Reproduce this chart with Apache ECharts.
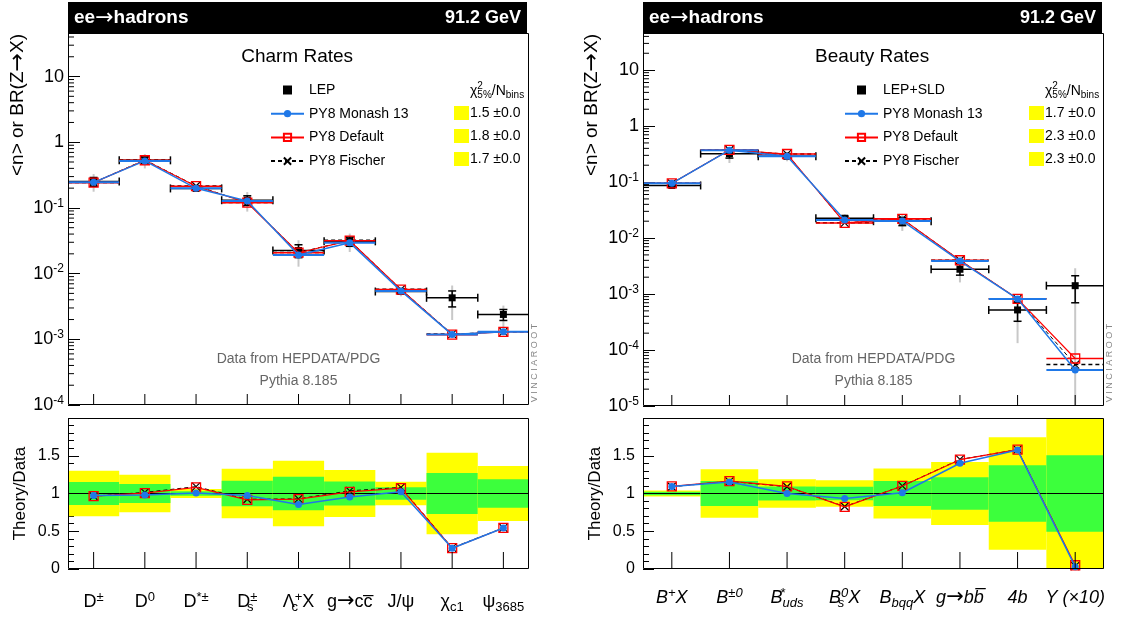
<!DOCTYPE html>
<html><head><meta charset="utf-8">
<script src="https://cdn.jsdelivr.net/npm/echarts@6/dist/echarts.min.js"></script>
<style>html,body{margin:0;padding:0;background:#fff}#c{width:1142px;height:617px}</style>
</head><body><div id="c"></div>
<script>
// ---------------- Charm panel ----------------
const charmCats = ['D+-', 'D0', 'D*+-', 'Ds+-', 'LambdaC', 'g->ccbar', 'J/psi', 'chi_c1', 'psi3685'];
const charmLabels = ['D{sup|±}', 'D{sup|0}', 'D{sup|*±}', 'D{subz|s}{sup|±}', 'Λ{subz|c}{sup|+}X', 'g{arr|→}cc\u0305', 'J/ψ', 'χ{sub|c1}', 'ψ{sub|3685}'];
const charmData    = [0.252, 0.53, 0.198, 0.131, 0.0225, 0.031, 0.00534, 0.00428, 0.00239];
const charmErr1    = [0.153, 0.127, 0.03, 0.168, 0.222, 0.16, 0.082, 0.273, 0.19];   // green band (1 sigma, rel.)
const charmErr2    = [0.30, 0.247, 0.058, 0.329, 0.433, 0.312, 0.156, 0.54, 0.364]; // yellow band (rel.)
const charmMonash  = [0.245, 0.520, 0.199, 0.1275, 0.0192, 0.0296, 0.00546, 0.00118, 0.0013];
const charmDefault = [0.243, 0.532, 0.214, 0.120, 0.0208, 0.0317, 0.00572, 0.00118, 0.0013];
const charmFischer = [0.243, 0.538, 0.216, 0.121, 0.0209, 0.0321, 0.00577, 0.0012, 0.0013];
const charmChi2    = ['1.5 ±0.0', '1.8 ±0.0', '1.7 ±0.0'];

// ---------------- Beauty panel ----------------
const beautyCats = ['B+X', 'B+-0', 'B*uds', 'Bs0X', 'BbqqX', 'g->bbbar', '4b', 'Upsilon'];
const beautyLabels = ['B{sup|+}X', 'B{sup|±0}', 'B{supz|*}{sub|uds}', 'B{subz|s}{sup|0}X', 'B{sub|bqq}X', 'g{arr|→}bb\u0305', '4b', 'Υ (×10)'];
const beautyData    = [0.087, 0.322, 0.29, 0.0226, 0.02, 0.00277, 0.00052, 0.00141];
const beautyErr1    = [0.022, 0.167, 0.093, 0.09, 0.167, 0.215, 0.373, 0.505];
const beautyErr2    = [0.04, 0.32, 0.188, 0.175, 0.33, 0.418, 0.745, 1.05];
const beautyMonash  = [0.0951, 0.371, 0.290, 0.0211, 0.0202, 0.00388, 0.000819, 0.000044];
const beautyDefault = [0.0951, 0.375, 0.317, 0.0186, 0.0220, 0.00401, 0.000822, 0.0000705];
const beautyFischer = [0.0948, 0.374, 0.316, 0.0187, 0.0220, 0.00402, 0.000822, 0.000055];
const beautyChi2    = ['1.7 ±0.0', '2.3 ±0.0', '2.3 ±0.0'];

// ---------------- Axis ticks ----------------
const logTickExps   = [-5, -4, -3, -2, -1, 0, 1];
const logTickLabels = ['10{sup|-5}', '10{sup|-4}', '10{sup|-3}', '10{sup|-2}', '10{sup|-1}', '1', '10'];
const ratioTickVals   = [0, 0.5, 1, 1.5];
const ratioTickLabels = ['0', '0.5', '1', '1.5'];

// ---------------- styling / layout ----------------
const FONT = '"Liberation Sans", Arial, Helvetica, sans-serif';
const ARROWFONT = '"DejaVu Sans", sans-serif';
const BLUE = '#1f78e8', RED = '#ff0000', GREEN = '#3cff3c', YELLOW = '#ffff00';
const LX = 68, RX = 643, PW = 461;
const TOPY = 33, TOPH_L = 372, TOPH_R = 373, RATY = 418, RATH = 151;
const XPATH = 'path://M0,0L10,10M10,0L0,10';

function logLabel(v) {
  const l = Math.log10(v), e = Math.round(l);
  const k = logTickExps.indexOf(e);
  if (Math.abs(l - e) > 1e-6 || k < 0) return '';
  return logTickLabels[k];
}
function ratioLabel(v) {
  const k = ratioTickVals.findIndex(t => Math.abs(t - v) < 1e-9);
  return k < 0 ? '' : ratioTickLabels[k];
}

function dataSeries(name, xi, yi, vals, e1, e2) {
  return {
    name, type: 'custom', xAxisIndex: xi, yAxisIndex: yi, z: 2, clip: true, silent: true,
    itemStyle: { color: '#000' },
    data: vals.map((v, i) => [i, v, e1[i], e2[i]]),
    renderItem(params, api) {
      const i = api.value(0), v = api.value(1), g = api.value(2), y = api.value(3);
      const c = api.coord([i, v]);
      const w = api.size([1, 0])[0];
      const fl = 1e-12;
      const yG1 = api.coord([i, Math.max(v * (1 - y), fl)])[1], yG2 = api.coord([i, v * (1 + y)])[1];
      const yB1 = api.coord([i, Math.max(v * (1 - g), fl)])[1], yB2 = api.coord([i, v * (1 + g)])[1];
      const cap = 4, lw = 1.5, k = '#000';
      return { type: 'group', children: [
        { type: 'line', shape: { x1: c[0], y1: yG1, x2: c[0], y2: yG2 }, style: { stroke: '#c8c8c8', lineWidth: 2 } },
        { type: 'line', shape: { x1: c[0], y1: yB1, x2: c[0], y2: yB2 }, style: { stroke: k, lineWidth: lw } },
        { type: 'line', shape: { x1: c[0] - cap, y1: yB1, x2: c[0] + cap, y2: yB1 }, style: { stroke: k, lineWidth: lw } },
        { type: 'line', shape: { x1: c[0] - cap, y1: yB2, x2: c[0] + cap, y2: yB2 }, style: { stroke: k, lineWidth: lw } },
        { type: 'line', shape: { x1: c[0] - w / 2, y1: c[1], x2: c[0] + w / 2, y2: c[1] }, style: { stroke: k, lineWidth: lw } },
        { type: 'line', shape: { x1: c[0] - w / 2, y1: c[1] - cap, x2: c[0] - w / 2, y2: c[1] + cap }, style: { stroke: k, lineWidth: lw } },
        { type: 'line', shape: { x1: c[0] + w / 2, y1: c[1] - cap, x2: c[0] + w / 2, y2: c[1] + cap }, style: { stroke: k, lineWidth: lw } },
        { type: 'rect', shape: { x: c[0] - 3.5, y: c[1] - 3.5, width: 7, height: 7 }, style: { fill: k } }
      ]};
    }
  };
}

function barSeries(name, xi, yi, vals, color, width, dash, z) {
  return {
    name, type: 'custom', xAxisIndex: xi, yAxisIndex: yi, z, clip: true, silent: true,
    data: vals.map((v, i) => [i, v]),
    renderItem(params, api) {
      const c = api.coord([api.value(0), api.value(1)]);
      const w = api.size([1, 0])[0];
      return { type: 'line', shape: { x1: c[0] - w / 2, y1: c[1], x2: c[0] + w / 2, y2: c[1] },
        style: { stroke: color, lineWidth: width, lineDash: dash } };
    }
  };
}

// x-axis tick marks at bin centres, drawn from the bottom of the frame upwards
function xTickSeries(xi, yi, n, len, yref) {
  const d = [];
  for (let i = 0; i < n; i++) d.push([i, yref]);
  return { name: 'xticks', type: 'custom', xAxisIndex: xi, yAxisIndex: yi, z: 8, silent: true, clip: false, data: d,
    renderItem(params, api) {
      const x = api.coord([api.value(0), api.value(1)])[0];
      const yb = params.coordSys.y + params.coordSys.height;
      return { type: 'line', shape: { x1: x, y1: yb, x2: x, y2: yb - len }, style: { stroke: '#000', lineWidth: 1 } };
    } };
}

const MC = {
  'PY8 Monash 13': { symbol: 'circle', symbolSize: 7, itemStyle: { color: BLUE }, lineStyle: { color: BLUE, width: 1.5 }, bar: [BLUE, 2, null], z: 6 },
  'PY8 Default':   { symbol: 'rect', symbolSize: 9, itemStyle: { color: 'rgba(255,255,255,0)', borderColor: RED, borderWidth: 1.3 }, lineStyle: { color: RED, width: 1.2 }, bar: [RED, 1.6, null], z: 5 },
  'PY8 Fischer':   { symbol: XPATH, symbolSize: 8, itemStyle: { color: '#000', borderColor: '#000', borderWidth: 1.2 }, lineStyle: { color: '#000', width: 1, type: [4, 3] }, bar: ['#000', 1.5, [4, 3]], z: 4 }
};

function lineSeries(name, xi, yi, vals) {
  const s = MC[name];
  return { name, type: 'line', xAxisIndex: xi, yAxisIndex: yi, z: s.z, silent: true, data: vals,
    symbol: s.symbol, symbolSize: s.symbolSize, symbolKeepAspect: true, showAllSymbol: true,
    itemStyle: s.itemStyle, lineStyle: s.lineStyle, emphasis: { disabled: true } };
}

function bandSeries(xi, yi, e1, e2) {
  return {
    name: 'bands', type: 'custom', xAxisIndex: xi, yAxisIndex: yi, z: 1, clip: true, silent: true,
    data: e1.map((g, i) => [i, g, e2[i]]),
    renderItem(params, api) {
      const i = api.value(0), g = api.value(1), y = api.value(2);
      const w = api.size([1, 0])[0];
      const cx = api.coord([i, 1])[0], x0 = cx - w / 2, yc = api.coord([i, 1])[1];
      const ya = api.coord([i, 1 + y])[1], yb = api.coord([i, 1 - y])[1];
      const ga = api.coord([i, 1 + g])[1], gb = api.coord([i, 1 - g])[1];
      return { type: 'group', children: [
        { type: 'rect', shape: { x: x0, y: ya, width: w, height: yb - ya }, style: { fill: YELLOW } },
        { type: 'rect', shape: { x: x0, y: ga, width: w, height: gb - ga }, style: { fill: GREEN } },
        { type: 'line', shape: { x1: x0, y1: yc, x2: x0 + w, y2: yc }, style: { stroke: '#000', lineWidth: 1 } }
      ]};
    }
  };
}

function minorLogTicks(xi, yi, minExp, maxVal) {
  const vals = [];
  for (let e = minExp; e <= 2; e++) for (let k = 2; k <= 9; k++) { const v = k * Math.pow(10, e); if (v < maxVal) vals.push([0, v]); }
  return { name: 'minor', type: 'custom', xAxisIndex: xi, yAxisIndex: yi, z: 7, silent: true, clip: true, data: vals,
    renderItem(params, api) {
      const y = api.coord([0, api.value(1)])[1];
      const x = params.coordSys.x;
      return { type: 'line', shape: { x1: x, y1: y, x2: x + 6, y2: y }, style: { stroke: '#000', lineWidth: 1 } };
    } };
}

function panelSeries(p) {
  const s = [];
  s.push(dataSeries(p.dataName, p.xt, p.yt, p.data, p.e1, p.e2));
  const mcs = [['PY8 Fischer', p.fischer], ['PY8 Default', p.def], ['PY8 Monash 13', p.monash]];
  mcs.forEach(([n, v]) => s.push(lineSeries(n, p.xt, p.yt, v)));
  mcs.forEach(([n, v]) => { const b = MC[n].bar; s.push(barSeries(n + ' bar', p.xt, p.yt, v, b[0], b[1], b[2], MC[n].z - 0.5)); });
  s.push(minorLogTicks(p.xt, p.yt, p.minExp, p.ymax));
  s.push(xTickSeries(p.xt, p.yt, p.data.length, 11, 1));
  s.push(bandSeries(p.xr, p.yr, p.e1, p.e2));
  mcs.forEach(([n, v]) => s.push(lineSeries(n, p.xr, p.yr, v.map((m, i) => m / p.data[i]))));
  s.push(xTickSeries(p.xr, p.yr, p.data.length, 17, 1));
  return s;
}

const richY = { sup: { fontSize: 12, fontFamily: FONT, color: '#000', padding: [0, 0, 9, 0] } };
function richX(italic) {
  const st = italic ? 'italic' : 'normal';
  return {
    sup:  { fontSize: 13, fontFamily: FONT, fontStyle: st, color: '#000', padding: [0, 0, 10, 0] },
    supz: { fontSize: 13, fontFamily: FONT, fontStyle: st, color: '#000', padding: [0, 0, 10, 0], width: 0.01, align: 'left' },
    sub:  { fontSize: 13, fontFamily: FONT, fontStyle: st, color: '#000', padding: [10, 0, 0, 0] },
    subz: { fontSize: 13, fontFamily: FONT, fontStyle: st, color: '#000', padding: [10, 0, 0, 0], width: 0.01, align: 'left' },
    arr:  { fontSize: 21, fontFamily: ARROWFONT, fontStyle: 'normal', color: '#000' }
  };
}

function xAxes(grid, cats, labels, italic, isRatio) {
  return {
    type: 'category', gridIndex: grid, data: cats, boundaryGap: true,
    axisLine: { show: false }, splitLine: { show: false }, axisTick: { show: false },
    axisLabel: isRatio ? {
      show: true, interval: 0, margin: italic ? 15 : 19, fontSize: 18, fontFamily: FONT, fontStyle: italic ? 'italic' : 'normal',
      color: '#000', lineHeight: 28, formatter: (v, i) => labels[i], rich: richX(italic)
    } : { show: false }
  };
}
function yLog(grid, min, max) {
  return { type: 'log', logBase: 10, gridIndex: grid, min, max, splitNumber: 6,
    axisLine: { show: false }, splitLine: { show: false }, minorTick: { show: false },
    axisTick: { show: true, inside: true, length: 12, lineStyle: { color: '#000' } },
    axisLabel: { formatter: logLabel, margin: 4, fontSize: 18, fontFamily: FONT, color: '#000', rich: richY } };
}
function yRatio(grid) {
  return { type: 'value', gridIndex: grid, min: 0, max: 2, interval: 0.5,
    name: 'Theory/Data', nameLocation: 'middle', nameGap: 39, nameRotate: 90,
    nameTextStyle: { fontSize: 17, fontFamily: FONT, color: '#000' },
    axisLine: { show: false }, splitLine: { show: false },
    axisTick: { show: true, inside: true, length: 11, lineStyle: { color: '#000' } },
    minorTick: { show: true, splitNumber: 5, length: 6, lineStyle: { color: '#000' } },
    axisLabel: { formatter: ratioLabel, margin: 8, fontSize: 16, fontFamily: FONT, color: '#000' } };
}

const panels = [
  { dataName: 'LEP', xt: 0, yt: 0, xr: 1, yr: 1, data: charmData, e1: charmErr1, e2: charmErr2,
    monash: charmMonash, def: charmDefault, fischer: charmFischer, minExp: -4, ymax: 46 },
  { dataName: 'LEP+SLD', xt: 2, yt: 2, xr: 3, yr: 3, data: beautyData, e1: beautyErr1, e2: beautyErr2,
    monash: beautyMonash, def: beautyDefault, fischer: beautyFischer, minExp: -5, ymax: 46 }
];

function legendFor(left, dataName) {
  return { left, top: 83, padding: 0, orient: 'vertical', itemWidth: 33, itemHeight: 9, itemGap: 9.7, selectedMode: false,
    textStyle: { fontSize: 14, fontFamily: FONT, color: '#000' },
    data: [{ name: dataName, icon: 'path://M0,0H10V10H0Z', itemStyle: { color: '#000' } }, 'PY8 Monash 13', 'PY8 Default', 'PY8 Fischer'] };
}

function panelGraphics(x0, title, chi, boxX, yTitleX, vinciX) {
  const g = [];
  g.push({ type: 'rect', shape: { x: x0, y: 2, width: PW - 2, height: 31 }, style: { fill: '#000' } });
  g.push({ type: 'text', x: x0 + 6, y: 18, style: { text: 'ee{a|→}hadrons', fill: '#fff', fontSize: 19, fontWeight: 'bold', fontFamily: FONT, verticalAlign: 'middle',
    rich: { a: { fontSize: 22, fontFamily: ARROWFONT, fill: '#fff', fontWeight: 'normal' } } } });
  g.push({ type: 'text', x: x0 + PW - 8, y: 18, style: { text: '91.2 GeV', fill: '#fff', fontSize: 18, fontWeight: 'bold', fontFamily: FONT, align: 'right', verticalAlign: 'middle' } });
  g.push({ type: 'text', x: x0 + PW * 0.497, y: 57, style: { text: title, fill: '#000', fontSize: 19, fontFamily: FONT, align: 'center', verticalAlign: 'middle' } });
  g.push({ type: 'text', x: boxX + 16, y: 91, style: {
    text: '{b|χ}{supz|2}{sub|5%}{b|/N}{sub|bins}', fill: '#000', verticalAlign: 'middle',
    rich: { b: { fontSize: 14, fontFamily: FONT }, supz: { fontSize: 10, fontFamily: FONT, padding: [0, 0, 9, 0], width: 0.01, align: 'left' },
            sub: { fontSize: 10, fontFamily: FONT, padding: [9, 0, 0, 0] } } } });
  chi.forEach((t, i) => {
    const yc = 113 + i * 23;
    g.push({ type: 'rect', shape: { x: boxX, y: yc - 7, width: 15, height: 14 }, style: { fill: YELLOW } });
    g.push({ type: 'text', x: boxX + 16, y: yc, style: { text: t, fill: '#000', fontSize: 14, fontFamily: FONT, verticalAlign: 'middle' } });
  });
  g.push({ type: 'text', x: x0 + PW * 0.5, y: 359, style: { text: 'Data from HEPDATA/PDG', fill: '#666', fontSize: 14, fontFamily: FONT, align: 'center', verticalAlign: 'middle' } });
  g.push({ type: 'text', x: x0 + PW * 0.5, y: 381, style: { text: 'Pythia 8.185', fill: '#666', fontSize: 14, fontFamily: FONT, align: 'center', verticalAlign: 'middle' } });
  g.push({ type: 'text', x: yTitleX, y: 105, rotation: Math.PI / 2, style: { text: '<n> or BR(Z{a|→}X)', fill: '#000', fontSize: 19, fontFamily: FONT, align: 'center', verticalAlign: 'middle',
    rich: { a: { fontSize: 22, fontFamily: ARROWFONT, fill: '#000' } } } });
  g.push({ type: 'text', x: vinciX, y: 363, rotation: Math.PI / 2, style: { text: 'V I N C I A R O O T', fill: '#888', fontSize: 9, fontFamily: FONT, align: 'center', verticalAlign: 'middle' } });
  return g;
}

function frames() {
  return [[LX, TOPY, TOPH_L], [LX, RATY, RATH], [RX, TOPY, TOPH_R], [RX, RATY, RATH]].map(([x, y, h]) => ({
    type: 'rect', z: 100, shape: { x: x + 0.5, y: y + 0.5, width: PW - 1, height: h - 1 }, style: { fill: 'none', stroke: '#000', lineWidth: 1 } }));
}

const option = {
  animation: false,
  backgroundColor: '#fff',
  textStyle: { fontFamily: FONT },
  grid: [
    { left: LX, top: TOPY, width: PW, height: TOPH_L },
    { left: LX, top: RATY, width: PW, height: RATH },
    { left: RX, top: TOPY, width: PW, height: TOPH_R },
    { left: RX, top: RATY, width: PW, height: RATH }
  ],
  xAxis: [
    xAxes(0, charmCats, charmLabels, false, false),
    xAxes(1, charmCats, charmLabels, false, true),
    xAxes(2, beautyCats, beautyLabels, true, false),
    xAxes(3, beautyCats, beautyLabels, true, true)
  ],
  yAxis: [ yLog(0, 1e-4, 46), yRatio(1), yLog(2, 1e-5, 46), yRatio(3) ],
  legend: [ legendFor(270, 'LEP'), legendFor(844, 'LEP+SLD') ],
  series: panelSeries(panels[0]).concat(panelSeries(panels[1])),
  graphic: { elements: []
    .concat(panelGraphics(LX, 'Charm Rates', charmChi2, 454, 18, 535))
    .concat(panelGraphics(RX, 'Beauty Rates', beautyChi2, 1029, 592, 1110))
    .concat(frames()) }
};

const chart = echarts.init(document.getElementById('c'), null, { renderer: 'canvas' });
chart.setOption(option);
</script></body></html>
